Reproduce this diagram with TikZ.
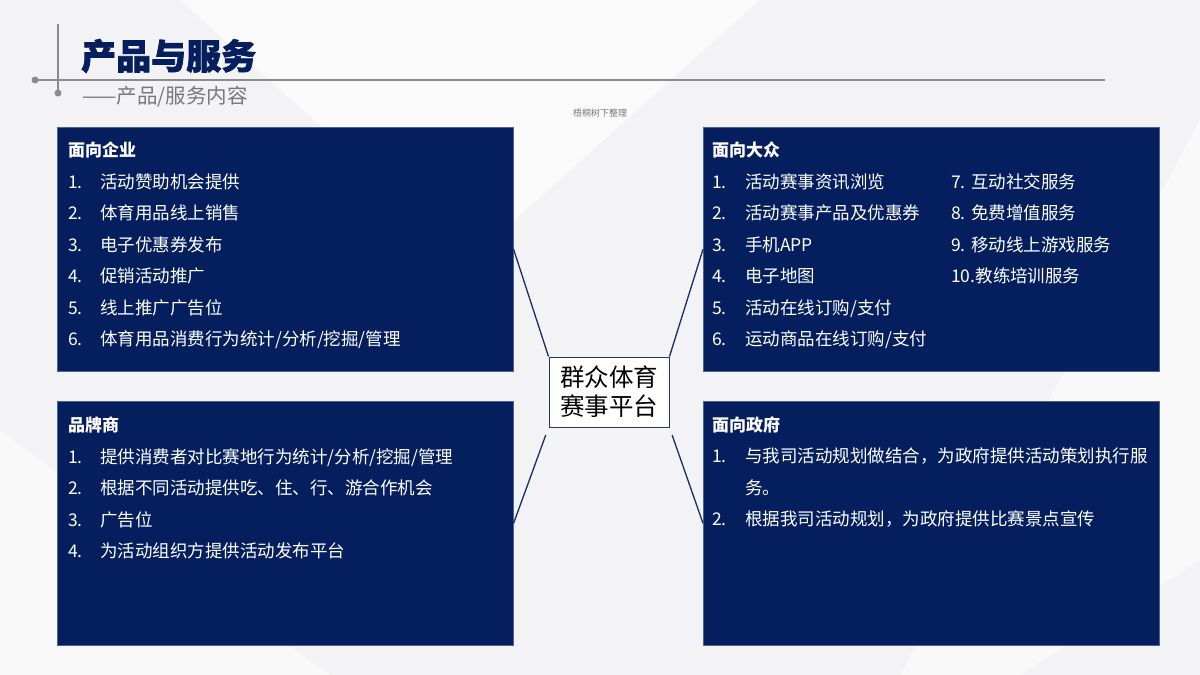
\documentclass[tikz,border=0pt]{standalone}
\usepackage{fontspec}
\setmainfont{Noto Sans CJK SC}
\usetikzlibrary{positioning,calc}

\definecolor{navy}{RGB}{4,30,94}
\definecolor{bggray}{RGB}{243,243,245}
\definecolor{rulegray}{RGB}{140,140,140}
\definecolor{subgray}{RGB}{120,120,120}

\tikzset{
  panel/.style={fill=navy, draw=navy!70!white, line width=0.6pt, anchor=north west,
    minimum width=456, minimum height=244, inner sep=0},
  boxtext/.style={text=white, anchor=west, inner sep=0, text height=0.88em, text depth=0.12em,
    yshift=-3pt, font=\fontsize{17.5}{21}\selectfont},
  boxhead/.style={boxtext, font=\bfseries\fontsize{17}{21}\selectfont},
  hub/.style={draw=navy!75!gray, fill=white, line width=1pt, minimum width=120, minimum height=70,
    align=center, inner sep=0, font=\fontsize{24.5}{29}\selectfont},
  link/.style={draw=navy!85!gray, line width=1.3pt}
}

\begin{document}
\begin{tikzpicture}[x=1pt,y=-1pt]
  \useasboundingbox (0,0) rectangle (1200,675);
  % background
  \fill[bggray] (0,0) rectangle (1200,675);
  \fill[white, opacity=0.6] (180,0) -- (760,0) -- (470,260) -- cycle;
  \fill[white, opacity=0.5] (0,675) -- (0,430) -- (330,675) -- cycle;
  \fill[white, opacity=0.5] (1200,120) -- (1200,560) -- (1020,675) -- (900,675) -- cycle;

  % header
  \draw[rulegray, line width=1.6pt] (35,80) -- (1105,80);
  \draw[rulegray, line width=1.6pt] (58,24) -- (58,93);
  \fill[rulegray] (35,80) circle (3.5);
  \fill[rulegray] (58,93) circle (3.5);
  \node[anchor=west, inner sep=0, text=navy,
    font=\bfseries\fontsize{35}{40}\selectfont] (title) at (81,56) {\pgfsetstrokecolor{navy}\special{pdf:literal direct 2 Tr 0.7 w}产品与服务\special{pdf:literal direct 0 Tr}};
  \node[anchor=west, inner sep=0, text=subgray, font=\fontsize{20.5}{24}\selectfont] (subtitle) at (82,97) {——产品/服务内容};
  \node[inner sep=0, text=subgray, font=\fontsize{9}{10}\selectfont] (note) at (600,113) {梧桐树下整理};

  % panels
  \node[panel] (corp) at (57,127) {};
  \node[panel] (public) at (703,127) {};
  \node[panel] (brand) at (57,401) {};
  \node[panel] (gov) at (703,401) {};

  % hub and links
  \node[hub] (platform) at (609,392) {群众体育\\赛事平台};
  \draw[link] (corp.east) -- (platform.north west);
  \draw[link] (public.west) -- (platform.north east);
  \draw[link, shorten >=8pt] (brand.east) -- (platform.south west);
  \draw[link, shorten >=8pt] (gov.west) -- (platform.south east);

  % 面向企业
  \node[boxhead] (corp-h) at (68,150) {面向企业};
  \foreach \t [count=\i] in {活动赞助机会提供, 体育用品线上销售, 电子优惠券发布,
      促销活动推广, 线上推广广告位, 体育用品消费行为统计/分析/挖掘/管理}{
    \node[boxtext] (corp-n\i) at (68,{150+31.5*\i}) {\i.};
    \node[boxtext] (corp-t\i) at (100,{150+31.5*\i}) {\t};
  }

  % 面向大众
  \node[boxhead] (public-h) at (712,150) {面向大众};
  \foreach \t [count=\i] in {活动赛事资讯浏览, 活动赛事产品及优惠券, 手机APP,
      电子地图, 活动在线订购/支付, 运动商品在线订购/支付}{
    \node[boxtext] (public-n\i) at (712,{150+31.5*\i}) {\i.};
    \node[boxtext] (public-t\i) at (745,{150+31.5*\i}) {\t};
  }
  \foreach \t [count=\i] in {7. 互动社交服务, 8. 免费增值服务, 9. 移动线上游戏服务, 10.教练培训服务}{
    \node[boxtext] (public-m\i) at (951,{150+31.5*\i}) {\t};
  }

  % 品牌商
  \node[boxhead] (brand-h) at (68,425) {品牌商};
  \foreach \t [count=\i] in {提供消费者对比赛地行为统计/分析/挖掘/管理, 根据不同活动提供吃、住、行、游合作机会,
      广告位, 为活动组织方提供活动发布平台}{
    \node[boxtext] (brand-n\i) at (68,{425+31.5*\i}) {\i.};
    \node[boxtext] (brand-t\i) at (100,{425+31.5*\i}) {\t};
  }

  % 面向政府
  \node[boxhead] (gov-h) at (712,425) {面向政府};
  \node[boxtext] (gov-n1) at (712,456) {1.};
  \node[boxtext] (gov-t1) at (745,456) {与我司活动规划做结合，为政府提供活动策划执行服};
  \node[boxtext] (gov-t1b) at (745,488) {务。};
  \node[boxtext] (gov-n2) at (712,519) {2.};
  \node[boxtext] (gov-t2) at (745,519) {根据我司活动规划，为政府提供比赛景点宣传};
\end{tikzpicture}
\end{document}
